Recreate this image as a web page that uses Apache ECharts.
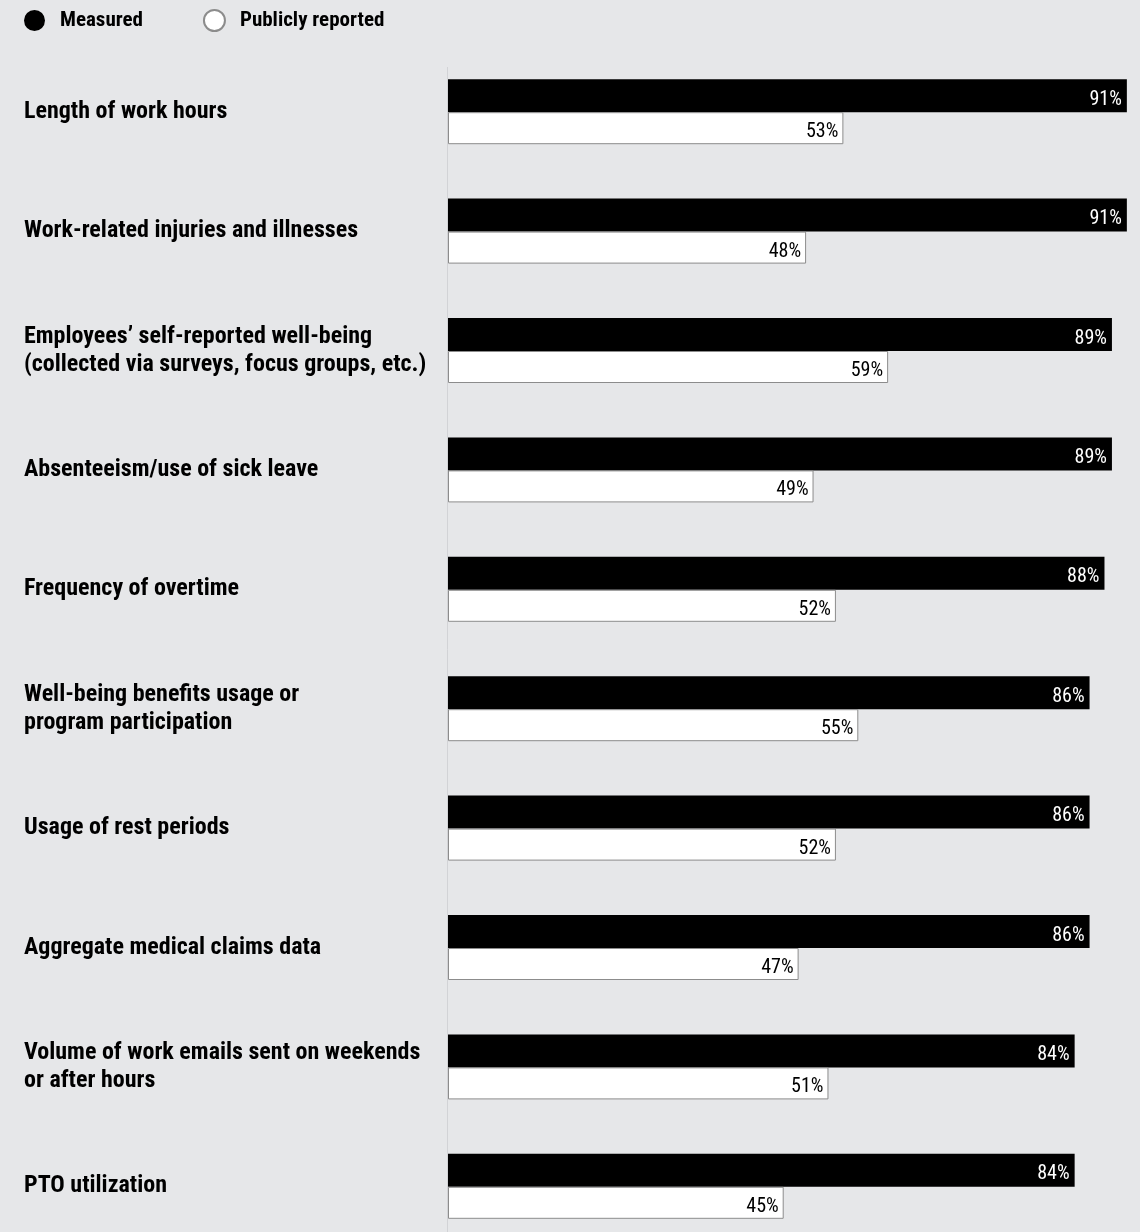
<!DOCTYPE html>
<html>
<head>
<meta charset="utf-8">
<script src="https://cdn.jsdelivr.net/npm/echarts@6/dist/echarts.min.js"></script>
<style>
  html, body { margin: 0; padding: 0; background: #e6e7e9; }
  #chart { width: 1140px; height: 1232px; }
</style>
</head>
<body>
<div id="chart"></div>
<script>
// Categories, top to bottom
const categories = [
  "Length of work hours",
  "Work-related injuries and illnesses",
  "Employees\u2019 self-reported well-being\n(collected via surveys, focus groups, etc.)",
  "Absenteeism/use of sick leave",
  "Frequency of overtime",
  "Well-being benefits usage or\nprogram participation",
  "Usage of rest periods",
  "Aggregate medical claims data",
  "Volume of work emails sent on weekends\nor after hours",
  "PTO utilization"
];
const measured = [91, 91, 89, 89, 88, 86, 86, 86, 84, 84];
const publiclyReported = [53, 48, 59, 49, 52, 55, 52, 47, 51, 45];

const condensed = '"Liberation Sans Narrow", "Roboto Condensed", "DejaVu Sans Condensed", sans-serif';

const chart = echarts.init(document.getElementById("chart"));

const option = {
  backgroundColor: "#e6e7e9",
  animation: false,
  legend: {
    left: 19,
    top: 4,
    icon: "circle",
    itemWidth: 21,
    itemHeight: 21,
    itemGap: 60,
    textStyle: {
      fontFamily: condensed,
      fontWeight: "bold",
      fontSize: 21,
      color: "#000",
      padding: [0, 0, 0, 10]
    },
    data: ["Measured", "Publicly reported"]
  },
  grid: {
    left: 448,
    width: 746,
    top: 52,
    height: 1194,
    containLabel: false,
    outerBoundsMode: "none"
  },
  xAxis: {
    type: "value",
    min: 0,
    max: 100,
    show: false
  },
  yAxis: {
    type: "category",
    inverse: true,
    data: categories,
    axisLine: { show: false },
    axisTick: { show: false },
    axisLabel: {
      align: "left",
      margin: 424,
      fontFamily: condensed,
      fontWeight: "bold",
      fontSize: 24,
      lineHeight: 28,
      color: "#000"
    }
  },
  graphic: [
    {
      type: "line",
      shape: { x1: 447.5, y1: 67, x2: 447.5, y2: 1232 },
      style: { stroke: "#d2d3d6", lineWidth: 1 },
      z: 0
    }
  ],
  series: [
    {
      name: "Measured",
      type: "bar",
      data: measured,
      barWidth: 33,
      barGap: "0%",
      itemStyle: { color: "#000" },
      label: {
        show: true,
        position: "insideRight",
        distance: 5,
        formatter: "{c}%",
        color: "#fff",
        fontFamily: condensed,
        fontSize: 20,
        offset: [0, 4]
      }
    },
    {
      name: "Publicly reported",
      type: "bar",
      data: publiclyReported,
      barWidth: 32,
      itemStyle: { color: "#fff", borderColor: "#8c8c8c", borderWidth: 1 },
      label: {
        show: true,
        position: "insideRight",
        distance: 5,
        formatter: "{c}%",
        color: "#000",
        fontFamily: condensed,
        fontSize: 20,
        offset: [0, 4]
      }
    }
  ]
};

chart.setOption(option);
</script>
</body>
</html>
